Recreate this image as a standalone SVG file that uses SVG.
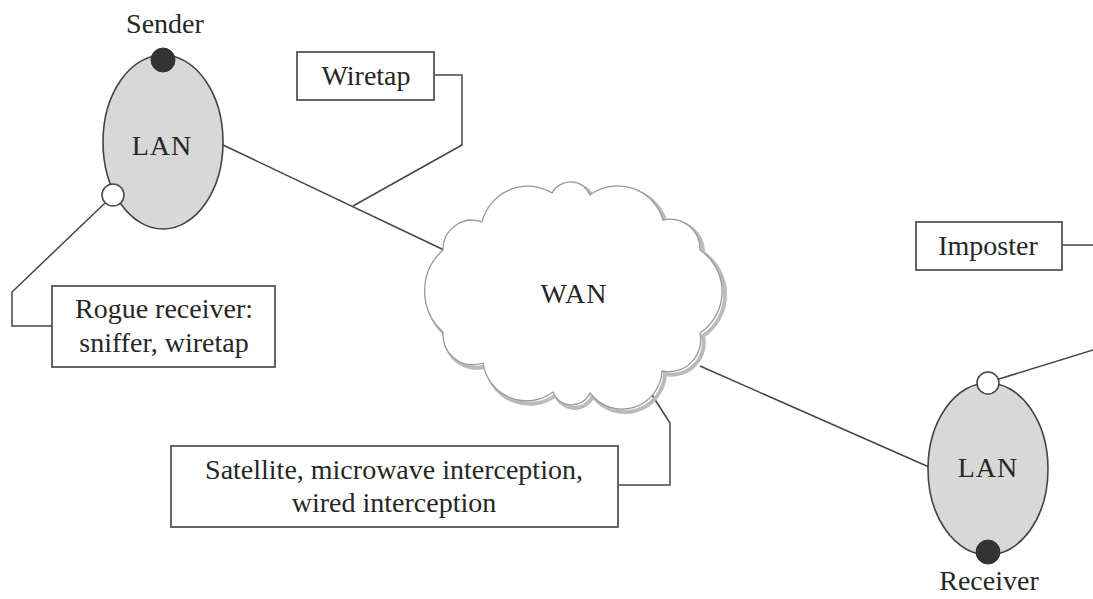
<svg xmlns="http://www.w3.org/2000/svg" width="1093" height="599" viewBox="0 0 1093 599">
<style>
text{font-family:"Liberation Serif","Times New Roman",serif;font-size:28px;fill:#262626;text-anchor:middle}
.box{fill:#fff;stroke:#555;stroke-width:1.8}
.lan{fill:#d8d8d8;stroke:#444;stroke-width:1.6}
.conn{fill:none;stroke:#444;stroke-width:1.5}
.tap{fill:#fff;stroke:#444;stroke-width:1.5}
.host{fill:#333;stroke:#333;stroke-width:1}
</style>
<defs>
<path id="cloud" d="M443,250 A29,29 0 0 1 482,222 A47,47 0 0 1 552,193 A21,21 0 0 1 590,195 A47,47 0 0 1 663,220 A30,30 0 0 1 700,250 A50,50 0 0 1 700,333 A32,32 0 0 1 662,371 A40,40 0 0 1 590,393 A20,20 0 0 1 553,392 A44,44 0 0 1 483,363 A30,30 0 0 1 443,332 A55,55 0 0 1 443,250 Z"/>
</defs>
<rect width="1093" height="599" fill="#fff"/>
<g id="connectors">
<path class="conn" d="M223,145 L444,250"/>
<path class="conn" d="M700,366 L929,467"/>
<path class="conn" d="M434,75 H462 V145 L353,206"/>
<path class="conn" d="M105,203 L12,292 V326 H52"/>
<path class="conn" d="M652,395 L670,423 V485 H618"/>
<path class="conn" d="M1062,245 H1096 V349 L999,379"/>
</g>
<g id="wan">
<use href="#cloud" transform="translate(3,3)" fill="none" stroke="#bbb" stroke-width="4"/>
<use href="#cloud" fill="#fff" stroke="#999" stroke-width="1.3"/>
<text x="574" y="303" letter-spacing="1">WAN</text>
</g>
<g id="sender-lan">
<ellipse class="lan" cx="163" cy="142" rx="60" ry="87"/>
<text x="162" y="155" letter-spacing="1">LAN</text>
<circle class="host" cx="163" cy="60" r="12"/>
<text x="165" y="33" font-size="27">Sender</text>
<circle class="tap" cx="113" cy="195" r="11"/>
</g>
<g id="receiver-lan">
<ellipse class="lan" cx="988" cy="469" rx="60" ry="86"/>
<text x="988" y="477" letter-spacing="1">LAN</text>
<circle class="host" cx="988" cy="552" r="12"/>
<text x="989" y="590">Receiver</text>
<circle class="tap" cx="988" cy="383" r="11"/>
</g>
<g id="wiretap">
<rect class="box" x="297" y="52" width="137" height="48"/>
<text x="366" y="85">Wiretap</text>
</g>
<g id="rogue">
<rect class="box" x="52" y="286" width="223" height="81"/>
<text x="164" y="318">Rogue receiver:</text>
<text x="164" y="352">sniffer, wiretap</text>
</g>
<g id="satellite">
<rect class="box" x="171" y="446" width="447" height="81"/>
<text x="394" y="479">Satellite, microwave interception,</text>
<text x="394" y="512">wired interception</text>
</g>
<g id="imposter">
<rect class="box" x="916" y="222" width="146" height="48"/>
<text x="988" y="255">Imposter</text>
</g>
</svg>
